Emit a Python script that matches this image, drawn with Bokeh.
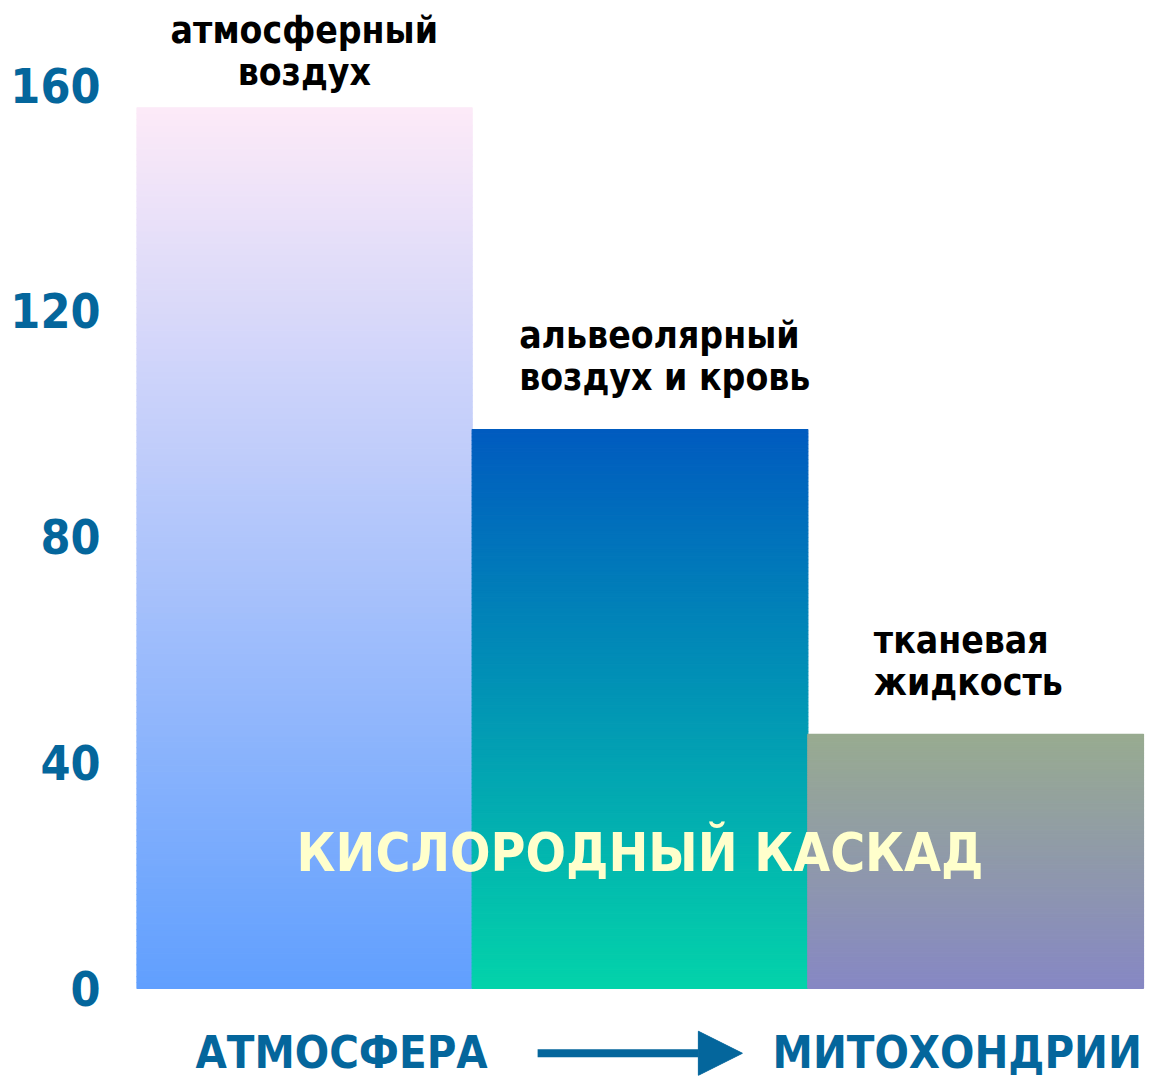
from bokeh.plotting import figure
from bokeh.models import Range1d, Label, Arrow, NormalHead, FixedTicker
from bokeh.core.properties import value
from bokeh.embed import file_html
from bokeh.resources import INLINE

# ---- data ----
stages = ["атмосферный\nвоздух", "альвеолярный\nвоздух и кровь", "тканевая\nжидкость"]
po2 = [156, 99, 45]
top_colors = ["#fdeaf8", "#005bbf", "#98ab90"]
bottom_colors = ["#609ffe", "#03d3aa", "#8687c4"]
y_ticks = [0, 40, 80, 120, 160]
title_text = "КИСЛОРОДНЫЙ КАСКАД"
from_text = "АТМОСФЕРА"
to_text = "МИТОХОНДРИИ"

FONT = "DejaVu Sans Condensed"
BLUE = "#04669c"

p = figure(width=1157, height=1081, output_backend="svg", toolbar_location=None,
           x_axis_location=None, x_range=Range1d(0, 3.0417), y_range=Range1d(-16.5, 175.0),
           min_border_left=136, min_border_right=0, min_border_top=0, min_border_bottom=0)
p.outline_line_color = None
p.grid.visible = False
p.background_fill_color = "white"
p.border_fill_color = "white"

ax = p.yaxis[0]
ax.ticker = FixedTicker(ticks=y_ticks)
ax.axis_line_color = None
ax.major_tick_line_color = None
ax.minor_tick_line_color = None
ax.major_tick_out = 0
ax.major_label_standoff = 36
ax.major_label_text_font = FONT
ax.major_label_text_font_style = "bold"
ax.major_label_text_font_size = "48px"
ax.major_label_text_color = BLUE


def hex2rgb(h):
    h = h.lstrip("#")
    return [int(h[i:i + 2], 16) for i in (0, 2, 4)]


def rgb2hex(c):
    return "#%02x%02x%02x" % tuple(int(round(v)) for v in c)


# gradient bars drawn as thin strips
N = 150
L, R, B, T, C = [], [], [], [], []
for i, v in enumerate(po2):
    c0 = hex2rgb(bottom_colors[i])
    c1 = hex2rgb(top_colors[i])
    for k in range(N):
        f = (k + 0.5) / N
        L.append(i)
        R.append(i + 1)
        B.append(v * k / N)
        T.append(v * (k + 1) / N)
        C.append(rgb2hex([a + (b - a) * f for a, b in zip(c0, c1)]))
p.quad(left=L, right=R, bottom=B, top=T, fill_color=C, line_color=C, line_width=1.2)

# stage labels
p.text(x=[0.5], y=[po2[0]], text=[stages[0]], text_align="center", text_baseline="bottom",
       y_offset=-14, text_font=value(FONT), text_font_style="bold", text_font_size="37px",
       text_color="black", text_line_height=0.98)
p.text(x=[1, 2], y=po2[1:], text=stages[1:], text_align="left", text_baseline="bottom",
       x_offset=[47, 66], y_offset=-30, text_font=value(FONT), text_font_style="bold",
       text_font_size="37px", text_color="black", text_line_height=0.98)

# title
p.add_layout(Label(x=1.5, y=24, text=title_text, text_align="center", text_baseline="middle",
                   text_font=FONT, text_font_style="bold", text_font_size="53px",
                   text_color="#ffffcc"))

# bottom: from -> to
p.add_layout(Label(x=0.611, y=-11.4, text=from_text, text_align="center", text_baseline="middle",
                   text_font=FONT, text_font_style="bold", text_font_size="45px", text_color=BLUE))
p.add_layout(Label(x=2.445, y=-11.4, text=to_text, text_align="center", text_baseline="middle",
                   text_font=FONT, text_font_style="bold", text_font_size="45px", text_color=BLUE))
p.add_layout(Arrow(end=NormalHead(size=44, fill_color=BLUE, line_color=BLUE),
                   x_start=1.195, y_start=-11.5, x_end=1.805, y_end=-11.5,
                   line_width=8, line_color=BLUE))

open("out.html", "w").write(file_html(p, INLINE))
